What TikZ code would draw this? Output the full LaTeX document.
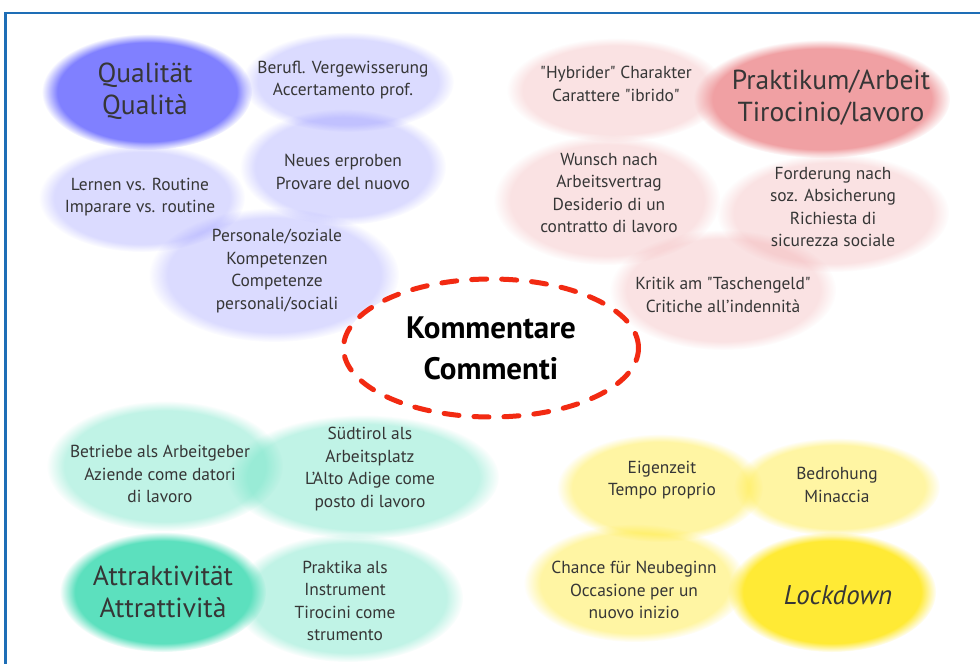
\documentclass[tikz,border=0pt]{standalone}
\usepackage{fontspec}
\setmainfont{PT Sans}
\usetikzlibrary{shapes.geometric,fadings}
\definecolor{frameblue}{HTML}{1E6EB6}
\definecolor{qblue}{HTML}{8080FF}
\definecolor{pred}{HTML}{F0A0A3}
\definecolor{ateal}{HTML}{5CE0BE}
\definecolor{lyellow}{HTML}{FFEA35}
\definecolor{commred}{HTML}{F22A12}
\definecolor{ink}{HTML}{363636}

\begin{document}
\begin{tikzpicture}[x=1pt, y=-1pt,
    blob/.style={path fading=circle with fuzzy edge 15 percent},
    item/.style={align=center, text=ink, inner sep=0pt,
                 font=\fontsize{17.4}{22.6}\selectfont},
    topic/.style={align=center, text=ink, inner sep=0pt,
                  font=\fontsize{27.5}{32}\selectfont}
  ]
  \useasboundingbox (0,0) rectangle (980,664);
  \fill[white] (0,0) rectangle (980,664);
  \draw[frameblue, line width=2.5pt] (5.5,664) -- (5.5,13) -- (980,13);

  % Qualitaet
  \fill[blob, qblue, fill opacity=.28] (348,82) ellipse [x radius=106pt, y radius=50pt];
  \fill[blob, qblue, fill opacity=.28] (343,167) ellipse [x radius=103pt, y radius=58pt];
  \fill[blob, qblue, fill opacity=.28] (142,198) ellipse [x radius=103pt, y radius=54pt];
  \fill[blob, qblue, fill opacity=.28] (274,275) ellipse [x radius=125pt, y radius=67pt];
  \fill[blob, qblue] (147,92) ellipse [x radius=105pt, y radius=58pt];

  % Praktikum
  \fill[blob, pred, fill opacity=.3] (616,90) ellipse [x radius=109pt, y radius=52pt];
  \fill[blob, pred, fill opacity=.3] (607,200) ellipse [x radius=113pt, y radius=65pt];
  \fill[blob, pred, fill opacity=.3] (833,213) ellipse [x radius=116pt, y radius=59pt];
  \fill[blob, pred, fill opacity=.3] (723,290) ellipse [x radius=113pt, y radius=60pt];
  \fill[blob, pred] (822,99) ellipse [x radius=128pt, y radius=59pt];

  % Attraktivitaet
  \fill[blob, ateal, fill opacity=.38] (165,466) ellipse [x radius=118pt, y radius=65pt];
  \fill[blob, ateal, fill opacity=.38] (363,477) ellipse [x radius=136pt, y radius=62pt];
  \fill[blob, ateal, fill opacity=.38] (348,598) ellipse [x radius=115pt, y radius=64pt];
  \fill[blob, ateal] (163,592) ellipse [x radius=103pt, y radius=60pt];

  % Lockdown
  \fill[blob, lyellow, fill opacity=.45] (660,488) ellipse [x radius=103pt, y radius=54pt];
  \fill[blob, lyellow, fill opacity=.45] (837,487) ellipse [x radius=103pt, y radius=49pt];
  \fill[blob, lyellow, fill opacity=.45] (635,583) ellipse [x radius=111pt, y radius=59pt];
  \fill[blob, lyellow] (832,592) ellipse [x radius=104pt, y radius=60pt];

  \node[topic] (qual) at (145,91) {Qualität\\Qualità};
  \node[item] (beruf) at (343,80) {Berufl. Vergewisserung\\Accertamento prof.};
  \node[item] (neues) at (343,172) {Neues erproben\\Provare del nuovo};
  \node[item] (lernen) at (140,197) {Lernen vs. Routine\\Imparare vs. routine};
  \node[item] (perso) at (277,271) {Personale/soziale\\Kompetenzen\\Competenze\\personali/sociali};

  \node[item] (hybrid) at (616,84) {\textquotedbl Hybrider\textquotedbl{} Charakter\\Carattere \textquotedbl ibrido\textquotedbl};
  \node[topic] (prakt) at (831,98) {Praktikum/Arbeit\\Tirocinio/lavoro};
  \node[item] (wunsch) at (609,193) {Wunsch nach\\Arbeitsvertrag\\Desiderio di un\\contratto di lavoro};
  \node[item] (forder) at (833,207) {Forderung nach\\soz. Absicherung\\Richiesta di\\sicurezza sociale};
  \node[item] (kritik) at (723,295) {Kritik am \textquotedbl Taschengeld\textquotedbl\\Critiche all'indennità};

  \node[ellipse, draw=commred, fill=white, line width=5pt, line cap=round,
        dash pattern=on 15pt off 15pt, minimum width=295pt, minimum height=138pt,
        font=\bfseries\fontsize{31}{41}\selectfont, align=center] (comm) at (491,348)
        {Kommentare\\Commenti};

  \node[item] (betr) at (160,474) {Betriebe als Arbeitgeber\\Aziende come datori\\di lavoro};
  \node[item] (suedt) at (370,469) {Südtirol als\\Arbeitsplatz\\L'Alto Adige come\\posto di lavoro};
  \node[topic] (attr) at (163,592) {Attraktivität\\Attrattività};
  \node[item] (instr) at (345,601) {Praktika als\\Instrument\\Tirocini come\\strumento};

  \node[item] (eigen) at (662,480) {Eigenzeit\\Tempo proprio};
  \node[item] (bedr) at (837,485) {Bedrohung\\Minaccia};
  \node[item] (chance) at (634,590) {Chance für Neubeginn\\Occasione per un\\nuovo inizio};
  \node[topic, font=\itshape\fontsize{27}{30}\selectfont] (lock) at (838,595) {Lockdown};
\end{tikzpicture}
\end{document}
